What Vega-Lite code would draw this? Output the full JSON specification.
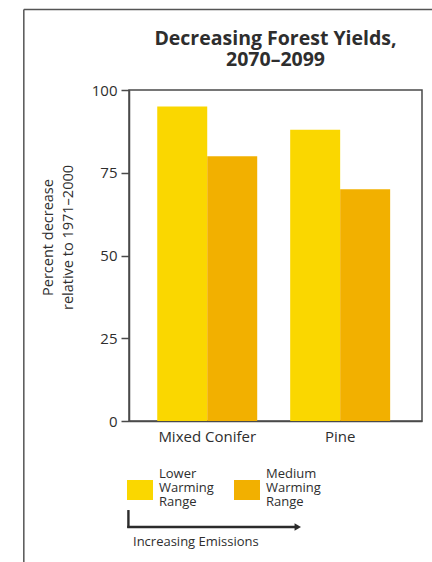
{
  "$schema": "https://vega.github.io/schema/vega-lite/v6.json",
  "width": 293,
  "height": 331,
  "autosize": {"type": "none"},
  "padding": {"left": 129, "top": 90, "right": 10, "bottom": 141},
  "background": "white",
  "config": {
    "font": "Open Sans",
    "view": {"stroke": "#4a4a4a", "strokeWidth": 1.5},
    "axis": {"domainColor": "#4a4a4a", "domainWidth": 1.5, "tickColor": "#4a4a4a", "tickWidth": 1.5, "labelColor": "#2e2e2e", "titleColor": "#2e2e2e"},
    "legend": {"padding": 0}
  },
  "title": {
    "text": ["Decreasing Forest Yields,", "2070–2099"],
    "fontSize": 19.5,
    "fontWeight": "bold",
    "lineHeight": 21,
    "color": "#2e2e2e",
    "anchor": "middle",
    "frame": "group",
    "offset": -62
  },
  "data": {
    "values": [
      {"forest": "Mixed Conifer", "scenario": "Lower Warming Range", "decrease": 95},
      {"forest": "Mixed Conifer", "scenario": "Medium Warming Range", "decrease": 80},
      {"forest": "Pine", "scenario": "Lower Warming Range", "decrease": 88},
      {"forest": "Pine", "scenario": "Medium Warming Range", "decrease": 70}
    ]
  },
  "layer": [
    {
      "mark": {"type": "bar"},
      "encoding": {
        "x": {
          "field": "forest",
          "type": "nominal",
          "sort": ["Mixed Conifer", "Pine"],
          "scale": {"paddingInner": 0.248, "paddingOuter": 0.226, "align": 0.47},
          "axis": {"title": null, "labelAngle": 0, "ticks": false, "labelFontSize": 15, "labelPadding": 8}
        },
        "xOffset": {
          "field": "scenario",
          "type": "nominal",
          "sort": ["Lower Warming Range", "Medium Warming Range"],
          "scale": {"paddingInner": 0, "paddingOuter": 0}
        },
        "y": {
          "field": "decrease",
          "type": "quantitative",
          "scale": {"domain": [0, 100], "nice": false},
          "axis": {
            "values": [0, 25, 50, 75, 100],
            "grid": false,
            "tickSize": 8,
            "labelPadding": 4,
            "labelFontSize": 15,
            "title": ["Percent decrease", "relative to 1971–2000"],
            "titleFontSize": 14.5,
            "titleFontWeight": "normal",
            "titleLineHeight": 20,
            "titleBaseline": "middle",
            "titleX": -81,
            "titleY": 147
          }
        },
        "color": {
          "field": "scenario",
          "type": "nominal",
          "scale": {"domain": ["Lower Warming Range", "Medium Warming Range"], "range": ["#FAD700", "#F2B000"]},
          "legend": {
            "orient": "none",
            "legendX": -2,
            "legendY": 387,
            "direction": "horizontal",
            "title": "Increasing Emissions",
            "titleOrient": "bottom",
            "titleAnchor": "start",
            "titleFontSize": 13,
            "titleFontWeight": "normal",
            "titleColor": "#2e2e2e",
            "titlePadding": 27,
            "symbolType": "M-1,-0.77H1V0.77H-1Z",
            "symbolSize": 676,
            "symbolStrokeWidth": 0,
            "symbolOpacity": 1,
            "labelExpr": "split(datum.label, ' ')",
            "labelFontSize": 13,
            "labelColor": "#2e2e2e",
            "labelOffset": 6,
            "labelLimit": 200,
            "columnPadding": 20,
            "encode": {
              "labels": {"update": {"dy": {"value": -16}, "lineHeight": {"value": 14}}},
              "title": {"update": {"dx": {"value": 6}}}
            }
          }
        }
      }
    },
    {
      "data": {"values": [{}]},
      "layer": [
        {
          "mark": {"type": "rule", "color": "#555555", "strokeWidth": 1.5},
          "encoding": {
            "x": {"datum": -0.359, "type": "quantitative", "scale": {"domain": [0, 1], "nice": false, "zero": false}, "axis": null},
            "y": {"datum": 1.243, "type": "quantitative", "scale": {"domain": [0, 1], "nice": false, "zero": false}, "axis": null},
            "y2": {"datum": -0.45}
          }
        },
        {
          "mark": {"type": "rule", "color": "#555555", "strokeWidth": 1.5},
          "encoding": {
            "x": {"datum": -0.359, "type": "quantitative"},
            "x2": {"datum": 1.06},
            "y": {"datum": 1.243, "type": "quantitative"}
          }
        },
        {
          "mark": {"type": "rule", "color": "#2b2b2b", "strokeWidth": 2.4},
          "encoding": {
            "x": {"datum": -0.002, "type": "quantitative"},
            "y": {"datum": -0.269, "type": "quantitative"},
            "y2": {"datum": -0.323}
          }
        },
        {
          "mark": {"type": "rule", "color": "#2b2b2b", "strokeWidth": 2.4},
          "encoding": {
            "x": {"datum": -0.006, "type": "quantitative"},
            "x2": {"datum": 0.572},
            "y": {"datum": -0.3202, "type": "quantitative"}
          }
        },
        {
          "mark": {"type": "point", "shape": "triangle-right", "filled": true, "size": 55, "color": "#2b2b2b", "opacity": 1},
          "encoding": {
            "x": {"datum": 0.576, "type": "quantitative"},
            "y": {"datum": -0.3202, "type": "quantitative"}
          }
        }
      ]
    }
  ],
  "resolve": {"scale": {"x": "independent", "y": "independent", "color": "independent"}}
}
